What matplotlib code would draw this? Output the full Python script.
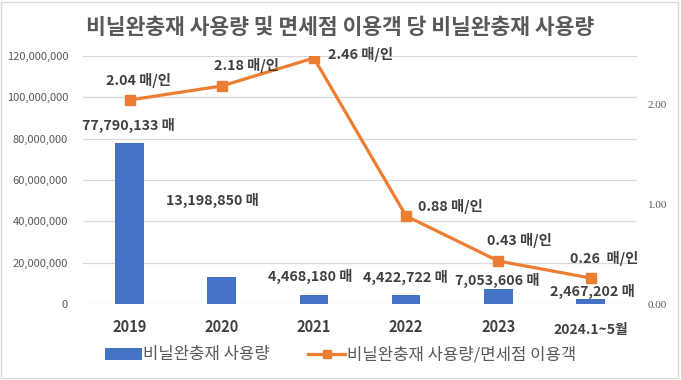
import matplotlib
matplotlib.use("Agg")
import matplotlib.pyplot as plt
from matplotlib.patches import Rectangle, Patch
from matplotlib.lines import Line2D
import matplotlib.ticker as ticker

plt.rcParams['font.family'] = ['Noto Sans CJK KR', 'DejaVu Sans']

# data
years = ['2019', '2020', '2021', '2022', '2023', '2024.1~5월']
usage = [77790133, 13198850, 4468180, 4422722, 7053606, 2467202]
per_person = [2.04, 2.18, 2.46, 0.88, 0.43, 0.26]
per_person_txt = ['2.04 매/인', '2.18 매/인', '2.46 매/인', '0.88 매/인', '0.43 매/인', '0.26  매/인']

# label offsets in pixels (hand placed in the original)
bar_off = [(-1, 18), (-9, 76), (-4, 18), (-1, 17), (-1, 9), (2, 7)]
line_off = [(9, 19), (25, 20), (47, 3), (44, 10), (21, 20), (14, 19)]

BLUE = '#4472C4'
ORANGE = '#ED7D31'
GREY = '#595959'
DARK = '#404040'

fig = plt.figure(figsize=(6.81, 3.80), dpi=100)
ax = fig.add_axes([83.4/681, 1-304/380, (636.6-83.4)/681, (304-56)/380])
ax2 = ax.twinx()

x = list(range(len(years)))
ax.bar(x, usage, width=0.31, color=BLUE, zorder=2)
ax.set_ylim(0, 120000000)
ax.set_xlim(-0.5, len(years)-0.5)
ax.yaxis.set_major_locator(ticker.MultipleLocator(20000000))
ax.yaxis.set_major_formatter(ticker.FuncFormatter(lambda v, p: f'{int(v):,}'))
ax.grid(axis='y', color='#d9d9d9', linewidth=0.9, zorder=0)
ax.set_axisbelow(True)
for s in ax.spines.values():
    s.set_visible(False)
for s in ax2.spines.values():
    s.set_visible(False)
ax.tick_params(axis='y', length=0, pad=11, labelsize=8, labelcolor=GREY)
ax.tick_params(axis='x', length=0, pad=11, labelsize=10.5, labelcolor=DARK)
ax.set_xticks(x)
ax.set_xticklabels(years, fontweight='bold')
ax.get_xticklabels()[-1].set_y(-0.015)
ax.get_xticklabels()[-1].set_fontsize(10)

ax2.plot(x, per_person, color=ORANGE, linewidth=2.3, marker='s', markersize=6.5, zorder=3)
ax2.set_ylim(0, 2.48)
ax2.set_yticks([0, 1, 2])
ax2.yaxis.set_major_formatter(ticker.FormatStrFormatter('%.2f'))
ax2.tick_params(axis='y', length=0, pad=8, labelsize=8, labelcolor=GREY)
for t in ax2.get_yticklabels():
    t.set_fontfamily('Liberation Serif')

for i, v in enumerate(usage):
    ax.annotate(f'{v:,} 매', xy=(i, v), xytext=bar_off[i], textcoords='offset pixels',
                ha='center', va='center', fontsize=10.3, fontweight='bold', color=DARK)
for i, v in enumerate(per_person):
    ax2.annotate(per_person_txt[i], xy=(i, v), xytext=line_off[i], textcoords='offset pixels',
                 ha='center', va='center', fontsize=10.3, fontweight='bold', color=DARK)

fig.text(0.5, 1-27/380, '비닐완충재 사용량 및 면세점 이용객 당 비닐완충재 사용량',
         ha='center', va='center', fontsize=15.5, fontweight='bold', color=GREY)

handles = [Patch(facecolor=BLUE),
           Line2D([], [], color=ORANGE, linewidth=2.3, marker='s', markersize=6)]
fig.legend(handles, ['비닐완충재 사용량', '비닐완충재 사용량/면세점 이용객'],
           loc='center', bbox_to_anchor=(0.5, 1-355/380), ncol=2, frameon=False,
           fontsize=12, labelcolor=GREY, handlelength=2.2, handletextpad=0.1,
           columnspacing=2.3)

fig.add_artist(Rectangle((0.002, 0.004), 0.994, 0.992, transform=fig.transFigure,
                         fill=False, edgecolor='#d9d9d9', linewidth=1))

fig.savefig('out.png', dpi=100)
